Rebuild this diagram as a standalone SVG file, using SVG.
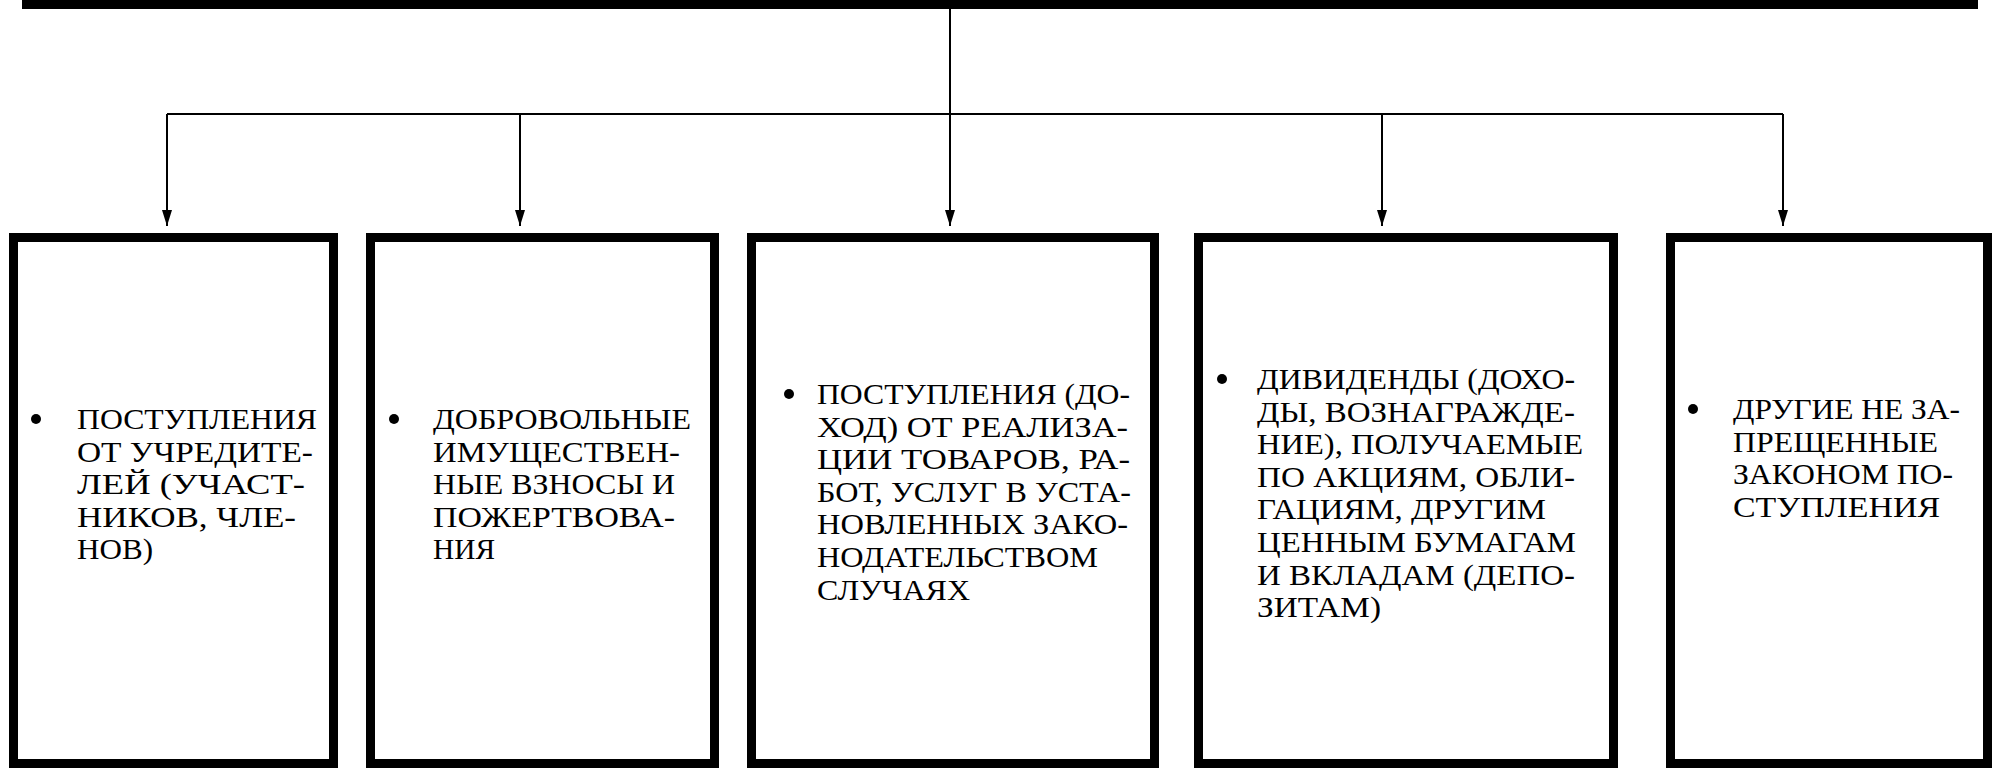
<svg xmlns="http://www.w3.org/2000/svg" width="1993" height="768" viewBox="0 0 1993 768">
<defs>
<marker id="arr" viewBox="0 0 16 10" refX="16" refY="5" markerWidth="16" markerHeight="10" markerUnits="userSpaceOnUse" orient="auto">
<path d="M0,0 L16,5 L0,10 Z" fill="#000"/>
</marker>
<style>
.box{fill:#fff;stroke:#000;stroke-width:9}
.ln{fill:none;stroke:#000;stroke-width:2}
.t{font-family:'Liberation Serif','Times New Roman','Liberation Sans',serif;font-size:30px;fill:#000}
.b{fill:#000}
</style>
</defs>
<rect width="1993" height="768" fill="#fff"/>
<g id="top"><rect x="22" y="0" width="1956" height="9" fill="#000"/></g>
<g id="connectors">
<line class="ln" x1="950" y1="9" x2="950" y2="114"/>
<line class="ln" x1="167" y1="114" x2="1783" y2="114"/>
<path class="ln" d="M167,114 V226" marker-end="url(#arr)"/>
<path class="ln" d="M520,114 V226" marker-end="url(#arr)"/>
<path class="ln" d="M950,114 V226" marker-end="url(#arr)"/>
<path class="ln" d="M1382,114 V226" marker-end="url(#arr)"/>
<path class="ln" d="M1783,114 V226" marker-end="url(#arr)"/>
</g>
<g id="n1">
<rect class="box" x="13.5" y="237.5" width="320" height="526"/>
<circle class="b" cx="36" cy="419" r="5"/>
<text class="t" lengthAdjust="spacingAndGlyphs" x="77" y="429"><tspan x="77" textLength="240" lengthAdjust="spacingAndGlyphs">ПОСТУПЛЕНИЯ</tspan><tspan x="77" dy="32.6" textLength="236" lengthAdjust="spacingAndGlyphs">ОТ УЧРЕДИТЕ-</tspan><tspan x="77" dy="32.6" textLength="228" lengthAdjust="spacingAndGlyphs">ЛЕЙ (УЧАСТ-</tspan><tspan x="77" dy="32.6" textLength="219" lengthAdjust="spacingAndGlyphs">НИКОВ, ЧЛЕ-</tspan><tspan x="77" dy="32.6" textLength="76" lengthAdjust="spacingAndGlyphs">НОВ)</tspan></text>
</g>
<g id="n2">
<rect class="box" x="370.5" y="237.5" width="344" height="526"/>
<circle class="b" cx="394" cy="419" r="5"/>
<text class="t" x="433" y="429"><tspan x="433" textLength="258" lengthAdjust="spacingAndGlyphs">ДОБРОВОЛЬНЫЕ</tspan><tspan x="433" dy="32.6" textLength="247" lengthAdjust="spacingAndGlyphs">ИМУЩЕСТВЕН-</tspan><tspan x="433" dy="32.6" textLength="242" lengthAdjust="spacingAndGlyphs">НЫЕ ВЗНОСЫ И</tspan><tspan x="433" dy="32.6" textLength="242" lengthAdjust="spacingAndGlyphs">ПОЖЕРТВОВА-</tspan><tspan x="433" dy="32.6" textLength="62" lengthAdjust="spacingAndGlyphs">НИЯ</tspan></text>
</g>
<g id="n3">
<rect class="box" x="751.5" y="237.5" width="403" height="526"/>
<circle class="b" cx="789" cy="394" r="5"/>
<text class="t" x="817" y="404"><tspan x="817" textLength="313" lengthAdjust="spacingAndGlyphs">ПОСТУПЛЕНИЯ (ДО-</tspan><tspan x="817" dy="32.6" textLength="311" lengthAdjust="spacingAndGlyphs">ХОД) ОТ РЕАЛИЗА-</tspan><tspan x="817" dy="32.6" textLength="313" lengthAdjust="spacingAndGlyphs">ЦИИ ТОВАРОВ, РА-</tspan><tspan x="817" dy="32.6" textLength="314" lengthAdjust="spacingAndGlyphs">БОТ, УСЛУГ В УСТА-</tspan><tspan x="817" dy="32.6" textLength="311" lengthAdjust="spacingAndGlyphs">НОВЛЕННЫХ ЗАКО-</tspan><tspan x="817" dy="32.6" textLength="281" lengthAdjust="spacingAndGlyphs">НОДАТЕЛЬСТВОМ</tspan><tspan x="817" dy="32.6" textLength="153" lengthAdjust="spacingAndGlyphs">СЛУЧАЯХ</tspan></text>
</g>
<g id="n4">
<rect class="box" x="1198.5" y="237.5" width="415" height="526"/>
<circle class="b" cx="1222" cy="379" r="5"/>
<text class="t" x="1257" y="389"><tspan x="1257" textLength="318" lengthAdjust="spacingAndGlyphs">ДИВИДЕНДЫ (ДОХО-</tspan><tspan x="1257" dy="32.6" textLength="318" lengthAdjust="spacingAndGlyphs">ДЫ, ВОЗНАГРАЖДЕ-</tspan><tspan x="1257" dy="32.6" textLength="326" lengthAdjust="spacingAndGlyphs">НИЕ), ПОЛУЧАЕМЫЕ</tspan><tspan x="1257" dy="32.6" textLength="318" lengthAdjust="spacingAndGlyphs">ПО АКЦИЯМ, ОБЛИ-</tspan><tspan x="1257" dy="32.6" textLength="289" lengthAdjust="spacingAndGlyphs">ГАЦИЯМ, ДРУГИМ</tspan><tspan x="1257" dy="32.6" textLength="319" lengthAdjust="spacingAndGlyphs">ЦЕННЫМ БУМАГАМ</tspan><tspan x="1257" dy="32.6" textLength="318" lengthAdjust="spacingAndGlyphs">И ВКЛАДАМ (ДЕПО-</tspan><tspan x="1257" dy="32.6" textLength="124" lengthAdjust="spacingAndGlyphs">ЗИТАМ)</tspan></text>
</g>
<g id="n5">
<rect class="box" x="1670.5" y="237.5" width="317" height="526"/>
<circle class="b" cx="1693" cy="409" r="5"/>
<text class="t" x="1733" y="419"><tspan x="1733" textLength="227" lengthAdjust="spacingAndGlyphs">ДРУГИЕ НЕ ЗА-</tspan><tspan x="1733" dy="32.6" textLength="205" lengthAdjust="spacingAndGlyphs">ПРЕЩЕННЫЕ</tspan><tspan x="1733" dy="32.6" textLength="220" lengthAdjust="spacingAndGlyphs">ЗАКОНОМ ПО-</tspan><tspan x="1733" dy="32.6" textLength="207" lengthAdjust="spacingAndGlyphs">СТУПЛЕНИЯ</tspan></text>
</g>
</svg>
